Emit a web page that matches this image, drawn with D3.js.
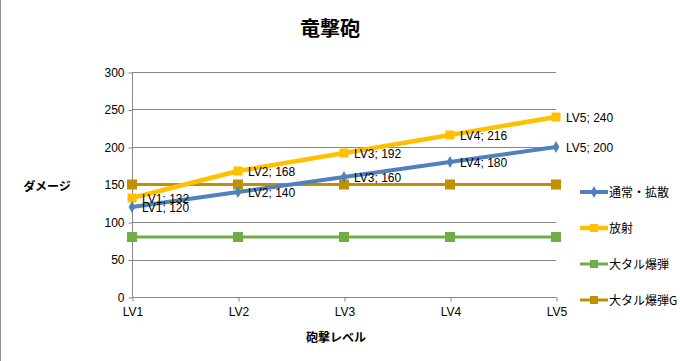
<!DOCTYPE html>
<html><head><meta charset="utf-8">
<script src="https://cdn.jsdelivr.net/npm/d3@7/dist/d3.min.js"></script>
<style>
body{margin:0;background:#fff;}
text{font-family:"Liberation Sans","Noto Sans CJK JP",sans-serif;}
</style></head>
<body><svg id="c" width="680" height="361"></svg>
<script>
const categories = ["LV1","LV2","LV3","LV4","LV5"];
const seriesNames = ["通常・拡散","放射","大タル爆弾","大タル爆弾G"];
const normalValues = [120,140,160,180,200];
const radialValues = [132,168,192,216,240];
const barrelValues = [80,80,80,80,80];
const barrelGValues = [150,150,150,150,150];
const yTicks = [0,50,100,150,200,250,300];
const labelled = [true,true,false,false];

const colors = ["#4F81BD","#FFC000","#70AD47","#BF9000"];
const widths = [4,4.5,3,3];
const allValues = [normalValues,radialValues,barrelValues,barrelGValues];

const svg = d3.select("#c");
svg.append("line").attr("x1",0.5).attr("x2",0.5).attr("y1",0).attr("y2",361).attr("stroke","#8c8c8c").attr("stroke-width",1);

const x = d3.scalePoint().domain(categories).range([132,556]);
const y = d3.scaleLinear().domain([0,300]).range([297,72]);

// gridlines
svg.append("g").selectAll("line").data(yTicks.filter(d=>d>0)).join("line")
  .attr("x1",132).attr("x2",556).attr("y1",d=>Math.round(y(d))+0.5).attr("y2",d=>Math.round(y(d))+0.5)
  .attr("stroke","#868686").attr("stroke-width",1);

// y axis
const ya = svg.append("g").attr("transform","translate(132.5,0.5)")
  .call(d3.axisLeft(y).tickValues(yTicks).tickSize(4).tickPadding(4));
ya.select(".domain").attr("stroke","#868686").attr("d","M0,72V297");
ya.selectAll(".tick line").attr("stroke","#868686");
ya.selectAll("text").attr("font-size","12px").attr("fill","#000").style("font-family","'Liberation Sans',sans-serif");

// x axis
const xa = svg.append("g").attr("transform","translate(0.5,297.5)")
  .call(d3.axisBottom(x).tickSize(4).tickPadding(6));
xa.select(".domain").attr("stroke","#868686").attr("d","M132,0H556");
xa.selectAll(".tick line").attr("stroke","#868686");
xa.selectAll("text").attr("font-size","12px").attr("fill","#000").style("font-family","'Liberation Sans',sans-serif");

// series (draw order: barrelG, barrel, radial, normal? keep natural)
const line = d3.line().x((d,i)=>x(categories[i])).y(d=>y(d));
const order = [2,3,1,0];
order.forEach(s=>{
  const vals = allValues[s];
  const g = svg.append("g");
  g.append("path").attr("d",line(vals)).attr("fill","none").attr("stroke",colors[s]).attr("stroke-width",widths[s]).attr("stroke-linejoin","round");
  if (s===0){
    g.selectAll("path.m").data(vals).join("path").attr("class","m")
      .attr("d",d3.symbol(d3.symbolDiamond,40)())
      .attr("transform",(d,i)=>`translate(${x(categories[i])},${y(d)})`)
      .attr("fill",colors[s]);
  } else {
    const sz = s===1?9:10;
    g.selectAll("rect").data(vals).join("rect")
      .attr("x",(d,i)=>x(categories[i])-sz/2).attr("y",d=>y(d)-sz/2)
      .attr("width",sz).attr("height",sz).attr("fill",colors[s]);
  }
});
// data labels
[0,1].forEach(s=>{
  svg.append("g").selectAll("text").data(allValues[s]).join("text")
    .attr("x",(d,i)=>x(categories[i])+10).attr("y",d=>y(d)+4.5)
    .attr("font-size","12px").attr("fill","#000")
    .text((d,i)=>`${categories[i]}; ${d}`);
});

// title
svg.append("text").attr("x",330).attr("y",36).attr("text-anchor","middle")
  .attr("font-size","20px").attr("font-weight","bold").style("font-family","'Noto Sans CJK JP',sans-serif").text("竜撃砲");
svg.append("text").attr("x",47).attr("y",191).attr("text-anchor","middle")
  .attr("font-size","12px").attr("font-weight","bold").style("font-family","'Noto Sans CJK JP',sans-serif").text("ダメージ");
svg.append("text").attr("x",336).attr("y",342).attr("text-anchor","middle")
  .attr("font-size","12px").attr("font-weight","bold").style("font-family","'Noto Sans CJK JP',sans-serif").text("砲撃レベル");

// legend
const ly = [192,228,264,300];
const lg = svg.append("g");
seriesNames.forEach((n,s)=>{
  const g = lg.append("g").attr("transform",`translate(0,${ly[s]})`);
  g.append("line").attr("x1",580).attr("x2",608).attr("stroke",colors[s]).attr("stroke-width",widths[s]);
  if (s===0) g.append("path").attr("d",d3.symbol(d3.symbolDiamond,40)()).attr("transform","translate(594,0)").attr("fill",colors[s]);
  else g.append("rect").attr("x",590).attr("y",-4).attr("width",8).attr("height",8).attr("fill",colors[s]);
  g.append("text").attr("x",609).attr("y",4.5).attr("font-size","12px").style("font-family","'Noto Sans CJK JP',sans-serif").text(n);
});
</script></body></html>
